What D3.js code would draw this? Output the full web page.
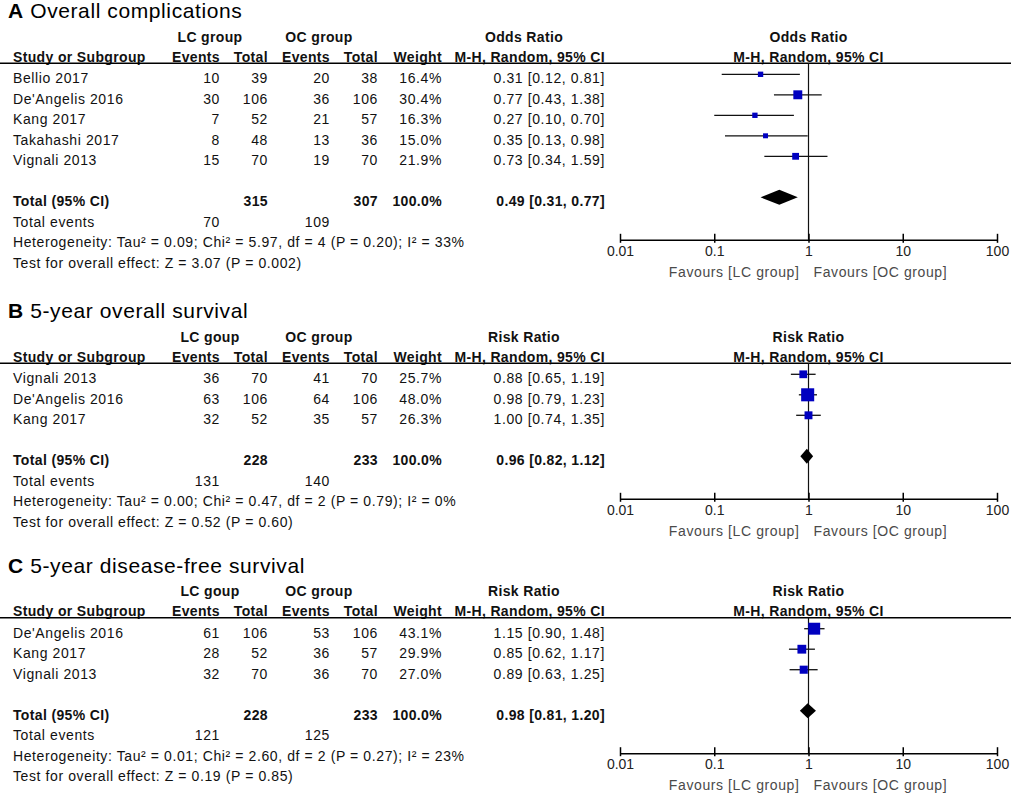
<!DOCTYPE html>
<html>
<head>
	<title>Forest plots</title>
	<meta charset='utf-8'>
	<style>
		body { margin: 0; background: #fff; }
		svg { display: block; font-family: 'Liberation Sans', Arial, sans-serif; }
		.title { font-size: 21px; fill: #000; letter-spacing: 0.6px; }
		.title .letter { font-weight: bold; }
		.head { font-size: 14px; font-weight: bold; fill: #111; letter-spacing: 0.35px; }
		.cell { font-size: 14px; fill: #111; letter-spacing: 0.6px; }
		.cell.bold { font-weight: bold; letter-spacing: 0.35px; }
		.rule { stroke: #000; stroke-width: 1.5px; }
		.ci { stroke: #111; stroke-width: 1.3px; }
		.box { fill: #0000c0; }
		.diamond { fill: #000; }
		.nullline { stroke: #111; stroke-width: 1.2px; }
		.axis path.domain { stroke: #000; stroke-width: 1.5px; }
		.axis .tick line { stroke: #000; stroke-width: 1.5px; }
		.axis .tick text { font-size: 14px; fill: #222; }
		.favours { font-size: 14px; fill: #4a4a4a; letter-spacing: 0.6px; }
	</style>
</head>
<body>
<div id="chart"></div>
<script src='https://d3js.org/d3.v7.min.js'></script>
<script>
	'use strict';

	// данные трёх мета-анализов (A, B, C)
	const panelLetters = ['A', 'B', 'C'];
	const panelTitles = ['Overall complications', '5-year overall survival', '5-year disease-free survival'];
	const measures = ['Odds Ratio', 'Risk Ratio', 'Risk Ratio'];
	const lcLabels = ['LC group', 'LC goup', 'LC goup'];
	const ocLabels = ['OC group', 'OC group', 'OC group'];

	const studies = [
		['Bellio 2017', "De'Angelis 2016", 'Kang 2017', 'Takahashi 2017', 'Vignali 2013'],
		['Vignali 2013', "De'Angelis 2016", 'Kang 2017'],
		["De'Angelis 2016", 'Kang 2017', 'Vignali 2013']
	];
	const lcEvents = [[10, 30, 7, 8, 15], [36, 63, 32], [61, 28, 32]];
	const lcTotals = [[39, 106, 52, 48, 70], [70, 106, 52], [106, 52, 70]];
	const ocEvents = [[20, 36, 21, 13, 19], [41, 64, 35], [53, 36, 36]];
	const ocTotals = [[38, 106, 57, 36, 70], [70, 106, 57], [106, 57, 70]];
	const weights = [[16.4, 30.4, 16.3, 15.0, 21.9], [25.7, 48.0, 26.3], [43.1, 29.9, 27.0]];
	const estimates = [[0.31, 0.77, 0.27, 0.35, 0.73], [0.88, 0.98, 1.00], [1.15, 0.85, 0.89]];
	const lowerCI = [[0.12, 0.43, 0.10, 0.13, 0.34], [0.65, 0.79, 0.74], [0.90, 0.62, 0.63]];
	const upperCI = [[0.81, 1.38, 0.70, 0.98, 1.59], [1.19, 1.23, 1.35], [1.48, 1.17, 1.25]];

	const pooledEst = [0.49, 0.96, 0.98];
	const pooledLow = [0.31, 0.82, 0.81];
	const pooledHigh = [0.77, 1.12, 1.20];
	const sumLcTotal = [315, 228, 228];
	const sumOcTotal = [307, 233, 233];
	const sumLcEvents = [70, 131, 121];
	const sumOcEvents = [109, 140, 125];
	const heterogeneity = [
		'Heterogeneity: Tau² = 0.09; Chi² = 5.97, df = 4 (P = 0.20); I² = 33%',
		'Heterogeneity: Tau² = 0.00; Chi² = 0.47, df = 2 (P = 0.79); I² = 0%',
		'Heterogeneity: Tau² = 0.01; Chi² = 2.60, df = 2 (P = 0.27); I² = 23%'
	];
	const overallEffect = [
		'Test for overall effect: Z = 3.07 (P = 0.002)',
		'Test for overall effect: Z = 0.52 (P = 0.60)',
		'Test for overall effect: Z = 0.19 (P = 0.85)'
	];
	const axisTicks = [0.01, 0.1, 1, 10, 100];

	// раскладка
	const ruleY = [63.3, 363.3, 617.7];
	const ROW = 20.5;
	const col = {study: 13, lcE: 220, lcT: 268, ocE: 330, ocT: 378, weight: 442, ci: 605, lcHead: 210, ocHead: 319, measHead: 524};

	const xScale = d3.scaleLog().domain([0.01, 100]).range([620, 997]);
	// размер квадрата растёт с весом исследования
	const boxScale = d3.scalePow().exponent(0.83).domain([0, 100]).range([0, 24]);
	const f2 = d3.format('.2f');
	const f1 = d3.format('.1f');
	const ciText = (e, l, h) => f2(e) + ' [' + f2(l) + ', ' + f2(h) + ']';

	const svg = d3.select('#chart').append('svg')
		.attr('width', 1013)
		.attr('height', 794);

	function cell(g, cls, x, y, anchor, txt) {
		g.append('text')
			.attr('class', cls)
			.attr('x', x)
			.attr('y', y)
			.attr('text-anchor', anchor)
			.text(txt);
	}

	panelLetters.forEach((letter, p) => {
		const top = ruleY[p];
		const n = studies[p].length;
		const rowY = i => top + 11 + ROW * i;  // центр строки с маркером
		const textY = i => rowY(i) + 9;      // базовая линия текста
		const g = svg.append('g');

		// заголовок панели
		const t = g.append('text').attr('class', 'title').attr('x', 8).attr('y', top - 45);
		t.append('tspan').attr('class', 'letter').text(letter);
		t.append('tspan').text(' ' + panelTitles[p]);

		// шапка таблицы
		const h1 = top - 21.6, h2 = top - 1.5;
		cell(g, 'head', col.lcHead, h1, 'middle', lcLabels[p]);
		cell(g, 'head', col.ocHead, h1, 'middle', ocLabels[p]);
		cell(g, 'head', col.measHead, h1, 'middle', measures[p]);
		cell(g, 'head', xScale(1), h1, 'middle', measures[p]);
		cell(g, 'head', col.study, h2, 'start', 'Study or Subgroup');
		cell(g, 'head', col.lcE, h2, 'end', 'Events');
		cell(g, 'head', col.lcT, h2, 'end', 'Total');
		cell(g, 'head', col.ocE, h2, 'end', 'Events');
		cell(g, 'head', col.ocT, h2, 'end', 'Total');
		cell(g, 'head', col.weight, h2, 'end', 'Weight');
		cell(g, 'head', col.ci, h2, 'end', 'M-H, Random, 95% CI');
		cell(g, 'head', xScale(1), h2, 'middle', 'M-H, Random, 95% CI');

		g.append('line').attr('class', 'rule')
			.attr('x1', 0).attr('x2', 1011)
			.attr('y1', top).attr('y2', top);

		// строки исследований
		studies[p].forEach((s, i) => {
			const y = textY(i);
			cell(g, 'cell', col.study, y, 'start', s);
			cell(g, 'cell', col.lcE, y, 'end', lcEvents[p][i]);
			cell(g, 'cell', col.lcT, y, 'end', lcTotals[p][i]);
			cell(g, 'cell', col.ocE, y, 'end', ocEvents[p][i]);
			cell(g, 'cell', col.ocT, y, 'end', ocTotals[p][i]);
			cell(g, 'cell', col.weight, y, 'end', f1(weights[p][i]) + '%');
			cell(g, 'cell', col.ci, y, 'end', ciText(estimates[p][i], lowerCI[p][i], upperCI[p][i]));
		});

		// итоги
		const ty = textY(n + 1);
		cell(g, 'cell bold', col.study, ty, 'start', 'Total (95% CI)');
		cell(g, 'cell bold', col.lcT, ty, 'end', sumLcTotal[p]);
		cell(g, 'cell bold', col.ocT, ty, 'end', sumOcTotal[p]);
		cell(g, 'cell bold', col.weight, ty, 'end', '100.0%');
		cell(g, 'cell bold', col.ci, ty, 'end', ciText(pooledEst[p], pooledLow[p], pooledHigh[p]));
		cell(g, 'cell', col.study, textY(n + 2), 'start', 'Total events');
		cell(g, 'cell', col.lcE, textY(n + 2), 'end', sumLcEvents[p]);
		cell(g, 'cell', col.ocE, textY(n + 2), 'end', sumOcEvents[p]);
		cell(g, 'cell', col.study, textY(n + 3), 'start', heterogeneity[p]);
		cell(g, 'cell', col.study, textY(n + 4), 'start', overallEffect[p]);

		// forest plot
		const axisY = rowY(n + 1) + 42.5;
		g.append('line').attr('class', 'nullline')
			.attr('x1', xScale(1)).attr('x2', xScale(1))
			.attr('y1', top).attr('y2', axisY);

		const idx = d3.range(n);
		g.selectAll('line.ci').data(idx).enter().append('line')
			.attr('class', 'ci')
			.attr('x1', i => xScale(lowerCI[p][i]))
			.attr('x2', i => xScale(upperCI[p][i]))
			.attr('y1', i => rowY(i))
			.attr('y2', i => rowY(i));

		g.selectAll('rect.box').data(idx).enter().append('rect')
			.attr('class', 'box')
			.attr('x', i => xScale(estimates[p][i]) - boxScale(weights[p][i]) / 2)
			.attr('y', i => rowY(i) - boxScale(weights[p][i]) / 2)
			.attr('width', i => boxScale(weights[p][i]))
			.attr('height', i => boxScale(weights[p][i]));

		const dy = rowY(n + 1);
		const dh = 7.5;
		g.append('path').attr('class', 'diamond')
			.attr('d', 'M' + xScale(pooledLow[p]) + ',' + dy +
				'L' + xScale(pooledEst[p]) + ',' + (dy - dh) +
				'L' + xScale(pooledHigh[p]) + ',' + dy +
				'L' + xScale(pooledEst[p]) + ',' + (dy + dh) + 'Z');

		const axis = d3.axisBottom(xScale)
			.tickValues(axisTicks)
			.tickFormat(d => String(d))
			.tickSizeInner(3)
			.tickSizeOuter(0);
		const ag = g.append('g')
			.attr('class', 'axis')
			.attr('transform', 'translate(0,' + axisY + ')')
			.call(axis);
		ag.attr('font-size', null).attr('font-family', null);
		ag.selectAll('.tick line').attr('y1', -6);

		cell(g, 'favours', xScale(1) - 9, axisY + 37, 'end', 'Favours [LC group]');
		cell(g, 'favours', xScale(1) + 5, axisY + 37, 'start', 'Favours [OC group]');
	});
</script>
</body>
</html>
